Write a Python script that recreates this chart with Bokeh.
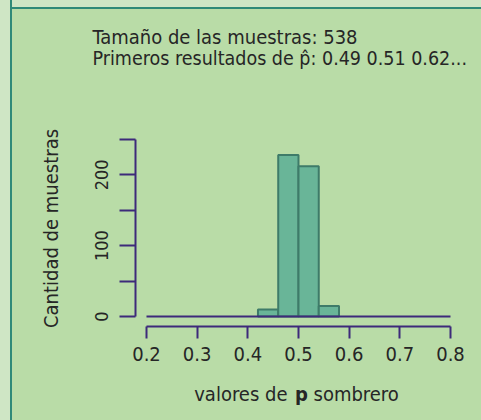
from bokeh.plotting import figure
from bokeh.models import FixedTicker, Label, Range1d
from bokeh.embed import file_html
from bokeh.resources import INLINE

# ---- data ----
bin_edges = [0.42, 0.46, 0.50, 0.54, 0.58]
counts = [10, 228, 212, 15]
x_ticks = [0.2, 0.3, 0.4, 0.5, 0.6, 0.7, 0.8]
x_tick_labels = ["0.2", "0.3", "0.4", "0.5", "0.6", "0.7", "0.8"]
y_ticks = [0, 50, 100, 150, 200, 250]
y_tick_labels = ["0", "", "100", "", "200", ""]
title_line1 = "Tamaño de  las muestras: 538"
title_line2 = "Primeros resultados de p\u0302: 0.49 0.51 0.62..."
ylabel = "Cantidad de muestras"
xlabel_parts = ["valores de", "p", "sombrero"]

FONT = "DejaVu Sans Condensed"
OUTER = "#cfe6c5"
PANEL = "#b9dca7"
TEAL = "#2f8a78"
AXIS = "#3d2a7a"
TXT = "#262626"
BAR_FILL = "#69b598"
BAR_LINE = "#3e7b69"

p = figure(width=481, height=420, output_backend="svg", toolbar_location=None,
           x_range=Range1d(0.1783, 0.8237), y_range=Range1d(-14.1, 262.5),
           min_border_left=135, min_border_right=19, min_border_top=130,
           min_border_bottom=94)
# page backdrop: light outer margin and teal panel edge at top-left
p.styles = {
    "background-color": PANEL,
    "background-image": (
        f"linear-gradient(to right, {OUTER} 0px, {OUTER} 10px, {TEAL} 10px, "
        f"{TEAL} 12px, transparent 12px), "
        f"linear-gradient(to bottom, {OUTER} 0px, {OUTER} 7px, {TEAL} 7px, "
        f"{TEAL} 9px, transparent 9px)"
    ),
}
p.background_fill_color = PANEL
p.border_fill_color = PANEL
p.border_fill_alpha = 0
p.outline_line_color = None
p.xgrid.visible = False
p.ygrid.visible = False

p.quad(left=bin_edges[:-1], right=bin_edges[1:], bottom=0, top=counts,
       fill_color=BAR_FILL, line_color=BAR_LINE, line_width=2)
p.segment(x0=[x_ticks[0]], x1=[x_ticks[-1]], y0=[0], y1=[0],
          line_color=AXIS, line_width=2)

# axes
xa = p.xaxis[0]
xa.ticker = FixedTicker(ticks=x_ticks)
xa.major_label_overrides = {t: l for t, l in zip(x_ticks, x_tick_labels)}
xa.bounds = (x_ticks[0], x_ticks[-1])
xa.minor_tick_line_color = None
xa.major_tick_out = 12
xa.major_tick_in = 0
xa.axis_line_color = AXIS
xa.axis_line_width = 2
xa.major_tick_line_color = AXIS
xa.major_tick_line_width = 2
xa.major_label_text_font = FONT
xa.major_label_text_font_size = "20px"
xa.major_label_text_color = TXT
xa.major_label_standoff = 8

ya = p.yaxis[0]
ya.ticker = FixedTicker(ticks=y_ticks)
ya.major_label_overrides = {t: l for t, l in zip(y_ticks, y_tick_labels)}
ya.bounds = (y_ticks[0], y_ticks[-1])
ya.minor_tick_line_color = None
ya.major_tick_out = 16
ya.major_tick_in = 0
ya.axis_line_color = AXIS
ya.axis_line_width = 2
ya.major_tick_line_color = AXIS
ya.major_tick_line_width = 2
ya.major_label_text_font = FONT
ya.major_label_text_font_size = "18px"
ya.major_label_text_color = TXT
ya.major_label_orientation = "parallel"
ya.major_label_standoff = 11
ya.axis_label = ylabel
ya.axis_label_text_font = FONT
ya.axis_label_text_font_size = "20px"
ya.axis_label_text_font_style = "normal"
ya.axis_label_text_color = TXT
ya.axis_label_standoff = 30

# titles (placed in the top panel, canvas coordinates)
for txt, yy, fs in ((title_line1, 36.5, "20px"), (title_line2, 58, "19.5px")):
    p.add_layout(Label(x=92, y=yy, x_units="canvas", y_units="canvas", text=txt,
                       text_font=FONT, text_font_size=fs, text_color=TXT,
                       text_baseline="alphabetic", text_align="left"), "above")

# x label with bold p (also in the top panel so the bottom border stays fixed)
for txt, xx, al, st in ((xlabel_parts[0], 287, "right", "normal"),
                        (xlabel_parts[1], 301, "center", "bold"),
                        (xlabel_parts[2], 313, "left", "normal")):
    p.add_layout(Label(x=xx, y=393.5, x_units="canvas", y_units="canvas", text=txt,
                       text_font=FONT, text_font_size="20px", text_color=TXT,
                       text_font_style=st, text_baseline="alphabetic",
                       text_align=al), "above")

open("out.html", "w").write(file_html(p, INLINE))
